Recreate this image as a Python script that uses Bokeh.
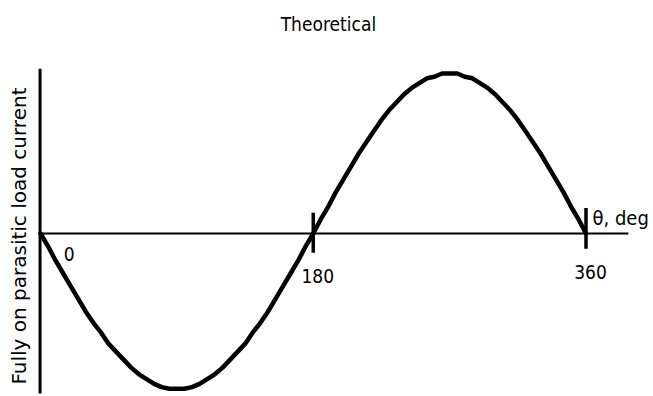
import numpy as np
from bokeh.plotting import figure
from bokeh.models import Range1d
from bokeh.core.properties import value
from bokeh.embed import file_html
from bokeh.resources import INLINE

# ---- data ----
theta_deg = [0, 5, 10, 15, 20, 25, 30, 35, 40, 45, 50, 55, 60, 65, 70, 75, 80, 85, 90,
             95, 100, 105, 110, 115, 120, 125, 130, 135, 140, 145, 150, 155, 160, 165, 170, 175, 180,
             185, 190, 195, 200, 205, 210, 215, 220, 225, 230, 235, 240, 245, 250, 255, 260, 265, 270,
             275, 280, 285, 290, 295, 300, 305, 310, 315, 320, 325, 330, 335, 340, 345, 350, 355, 360]
current = [0.00, -0.08, -0.17, -0.25, -0.33, -0.41, -0.49, -0.56, -0.62, -0.69, -0.74, -0.79, -0.84,
           -0.88, -0.91, -0.94, -0.96, -0.97, -0.97,
           -0.97, -0.96, -0.94, -0.91, -0.88, -0.84, -0.79, -0.74, -0.69, -0.62, -0.56, -0.49, -0.41,
           -0.33, -0.25, -0.17, -0.08, 0.00,
           0.09, 0.17, 0.26, 0.34, 0.42, 0.50, 0.57, 0.64, 0.71, 0.77, 0.82, 0.87, 0.91, 0.94, 0.97,
           0.98, 1.00, 1.00,
           1.00, 0.98, 0.97, 0.94, 0.91, 0.87, 0.82, 0.77, 0.71, 0.64, 0.57, 0.50, 0.42, 0.34, 0.26,
           0.17, 0.09, 0.00]
tick_positions = [180, 360]
tick_labels = ["180", "360"]
origin_label = "0"
x_axis_label = "θ, deg"
y_axis_label = "Fully on parasitic load current"
title_text = "Theoretical"

W, H = 653, 396
px_per_deg = 545.5 / 360.0
px_per_unit = 160.0
x0 = -40.0 / px_per_deg
y1 = 233.0 / px_per_unit

p = figure(width=W, height=H, output_backend="svg", toolbar_location=None,
           x_range=Range1d(x0, x0 + W / px_per_deg),
           y_range=Range1d(y1 - H / px_per_unit, y1),
           min_border=0)
p.xaxis.visible = False
p.yaxis.visible = False
p.grid.visible = False
p.outline_line_color = None
p.background_fill_color = "white"
p.border_fill_color = "white"

cond = value("'DejaVu Sans Condensed', 'DejaVu Sans', sans-serif")

# axes (hand-drawn style)
p.segment(x0=[-0.3], y0=[1.03], x1=[-0.3], y1=[-1.0], line_width=3, line_color="black")
p.segment(x0=[0], y0=[0], x1=[388], y1=[0], line_width=2, line_color="black")

# ticks
tick_top = [0.13, 0.16]
tick_bot = [-0.12, -0.095]
p.segment(x0=tick_positions, y0=tick_top, x1=tick_positions, y1=tick_bot,
          line_width=3.5, line_color="black")

# curve
p.line(theta_deg, current, line_width=4.5, line_color="black", line_join="round", line_cap="round")

# tick labels
p.text(x=[t + 3 for t in tick_positions], y=[-0.2625, -0.2375], text=tick_labels,
       text_font=cond, text_font_size="19px", text_align="center",
       text_baseline="alphabetic", text_color="black")
p.text(x=[19], y=[-0.125], text=[origin_label], text_font=cond, text_font_size="19px",
       text_align="center", text_baseline="alphabetic", text_color="black")
p.text(x=[364.3], y=[0.094], text=[x_axis_label], text_font=cond, text_font_size="20px",
       text_align="left", text_baseline="alphabetic", text_color="black")

# y label
p.text(x=[-14.5], y=[-0.016], text=[y_axis_label], angle=np.pi / 2,
       text_font=value("DejaVu Sans"), text_font_size="20px", text_align="center",
       text_baseline="middle", text_color="black")

# title
p.text(x=[190], y=[1.31], text=[title_text], text_font=cond, text_font_size="19px",
       text_align="center", text_baseline="alphabetic", text_color="black")

open("out.html", "w").write(file_html(p, INLINE))
